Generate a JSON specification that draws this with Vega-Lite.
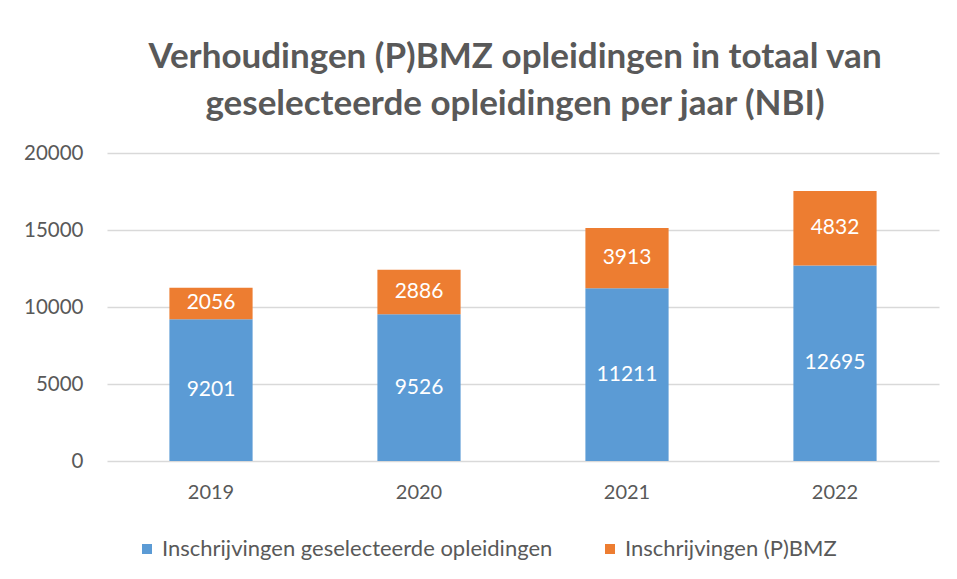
{
  "$schema": "https://vega.github.io/schema/vega-lite/v6.json",
  "autosize": {"type": "none"},
  "padding": {"left": 107, "top": 153, "right": 18, "bottom": 118},
  "width": 832,
  "height": 308,
  "background": "white",
  "config": {"view": {"stroke": null}},
  "title": {
    "text": ["Verhoudingen (P)BMZ opleidingen in totaal van", "geselecteerde opleidingen per jaar (NBI)"],
    "fontSize": 35,
    "font": "Lato",
    "fontWeight": "bold",
    "color": "#595959",
    "lineHeight": 47,
    "offset": 21,
    "dx": -8,
    "anchor": "middle"
  },
  "data": {
    "values": [
      {"jaar": "2019", "serie": "Inschrijvingen geselecteerde opleidingen", "volgorde": 1, "aantal": 9201},
      {"jaar": "2019", "serie": "Inschrijvingen (P)BMZ", "volgorde": 2, "aantal": 2056},
      {"jaar": "2020", "serie": "Inschrijvingen geselecteerde opleidingen", "volgorde": 1, "aantal": 9526},
      {"jaar": "2020", "serie": "Inschrijvingen (P)BMZ", "volgorde": 2, "aantal": 2886},
      {"jaar": "2021", "serie": "Inschrijvingen geselecteerde opleidingen", "volgorde": 1, "aantal": 11211},
      {"jaar": "2021", "serie": "Inschrijvingen (P)BMZ", "volgorde": 2, "aantal": 3913},
      {"jaar": "2022", "serie": "Inschrijvingen geselecteerde opleidingen", "volgorde": 1, "aantal": 12695},
      {"jaar": "2022", "serie": "Inschrijvingen (P)BMZ", "volgorde": 2, "aantal": 4832}
    ]
  },
  "encoding": {
    "x": {
      "field": "jaar", "type": "nominal",
      "scale": {"paddingInner": 0.6, "paddingOuter": 0.3},
      "axis": {"title": null, "labelAngle": 0, "ticks": false, "domain": false, "labelFontSize": 20, "labelPadding": 21, "labelColor": "#595959", "labelFont": "Lato"}
    },
    "y": {
      "field": "aantal", "type": "quantitative", "stack": "zero",
      "scale": {"domain": [0, 20000]},
      "axis": {"title": null, "values": [0, 5000, 10000, 15000, 20000], "format": "d", "ticks": false, "domain": false, "labelFontSize": 20.5, "labelPadding": 24, "labelColor": "#595959", "labelFont": "Lato", "gridColor": "#d9d9d9", "gridWidth": 1.5}
    },
    "order": {"field": "volgorde", "type": "quantitative"}
  },
  "layer": [
    {
      "mark": {"type": "bar"},
      "encoding": {
        "color": {
          "field": "serie", "type": "nominal",
          "scale": {"domain": ["Inschrijvingen geselecteerde opleidingen", "Inschrijvingen (P)BMZ"], "range": ["#5b9bd5", "#ed7d31"]},
          "legend": {
            "title": null, "orient": "none", "legendX": 29, "legendY": 385, "direction": "horizontal",
            "symbolType": "square", "symbolSize": 100, "symbolStrokeWidth": 0, "symbolOpacity": 1,
            "labelFontSize": 22, "labelColor": "#595959", "labelFont": "Lato", "labelOffset": 4,
            "columnPadding": 46, "labelLimit": 500
          }
        }
      }
    },
    {
      "mark": {"type": "text", "color": "white", "fontSize": 21, "font": "Lato"},
      "encoding": {
        "y": {"field": "aantal", "type": "quantitative", "stack": "zero", "bandPosition": 0.5},
        "text": {"field": "aantal", "type": "quantitative", "format": "d"}
      }
    }
  ]
}
